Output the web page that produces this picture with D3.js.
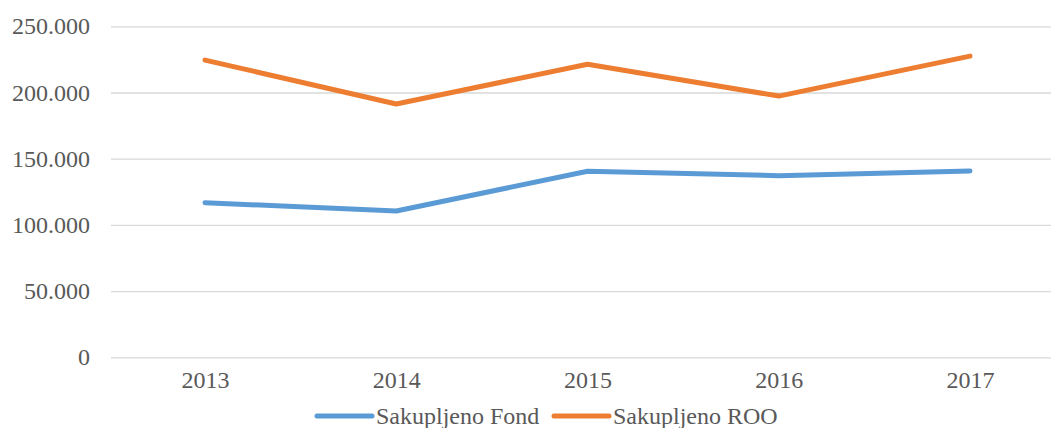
<!DOCTYPE html>
<html><head><meta charset="utf-8">
<script src="https://cdn.jsdelivr.net/npm/d3@7"></script>
<style>body{margin:0;background:#fff}svg{display:block}
.t{font-family:"Liberation Serif","Tinos","Times New Roman","DejaVu Serif",serif;font-size:24px;fill:#595959}</style>
</head><body><svg id="c" width="1051" height="428"></svg>
<script>
const years = ["2013","2014","2015","2016","2017"];
const fond = [116800, 110500, 140500, 137200, 140700];
const roo = [224500, 191300, 221300, 197300, 227500];
const yTicks = [0, 50000, 100000, 150000, 200000, 250000];
const seriesNames = ["Sakupljeno Fond", "Sakupljeno ROO"];
const colors = ["#5B9BD5", "#ED7D31"];

const svg = d3.select("#c");
const x = d3.scalePoint().domain(years).range([205, 970]);
const y = d3.scaleLinear().domain([0, 250000]).range([357.3, 26.3]);
const fmt = v => v === 0 ? "0" : d3.format(",")(v).replace(/,/g, ".");

const yAxis = d3.axisLeft(y).tickValues(yTicks).tickSize(-(1051 - 111)).tickFormat(fmt).tickPadding(21);
const gy = svg.append("g").attr("transform", "translate(111,0)").call(yAxis);
gy.attr("font-family", null).attr("font-size", null);
gy.select(".domain").remove();
gy.selectAll(".tick line").attr("stroke", "#D9D9D9").attr("stroke-width", 1.3);
gy.selectAll(".tick text").attr("class", "t").attr("fill", null);

const xAxis = d3.axisBottom(x).tickSize(0).tickPadding(14);
const gx = svg.append("g").attr("transform", "translate(0,357.3)").call(xAxis);
gx.attr("font-family", null).attr("font-size", null);
gx.select(".domain").remove();
gx.selectAll(".tick text").attr("class", "t").attr("fill", null);

const line = d3.line().x((d, i) => x(years[i])).y(d => y(d));
[fond, roo].forEach((s, i) => {
  svg.append("path").datum(s).attr("d", line).attr("fill", "none")
    .attr("stroke", colors[i]).attr("stroke-width", 5)
    .attr("stroke-linecap", "round").attr("stroke-linejoin", "round");
});

const legX = [317, 554];
seriesNames.forEach((n, i) => {
  const g = svg.append("g").attr("transform", `translate(${legX[i]},416)`);
  g.append("line").attr("x1", 0).attr("x2", 55).attr("stroke", colors[i])
    .attr("stroke-width", 5).attr("stroke-linecap", "round");
  g.append("text").attr("class", "t").attr("x", 59).attr("y", 8).text(n);
});
</script></body></html>
